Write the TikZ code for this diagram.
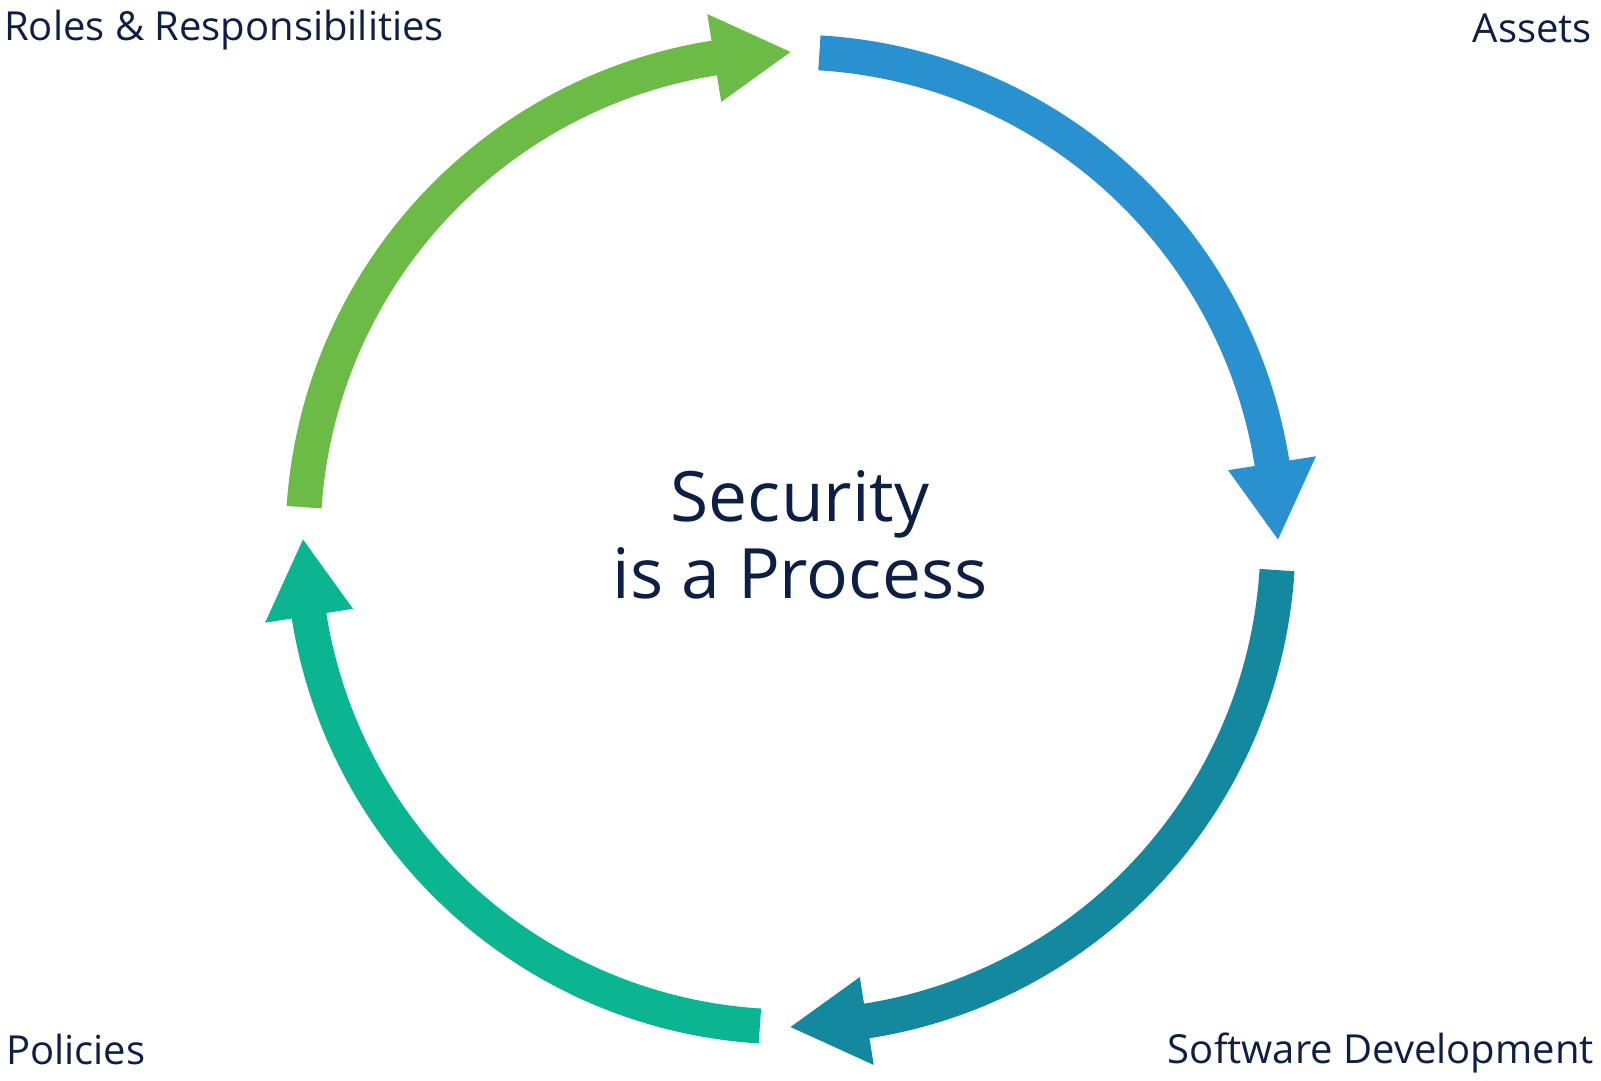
\documentclass[tikz,border=0pt]{standalone}
\usepackage{fontspec}
\setmainfont{Open Sans}

\definecolor{assetblue}{HTML}{2A91D0}
\definecolor{devteal}{HTML}{13889F}
\definecolor{policygreen}{HTML}{0BB592}
\definecolor{rolegreen}{HTML}{6CBB46}
\definecolor{labelnavy}{HTML}{0E1F45}

\begin{document}
\begin{tikzpicture}[x=1pt, y=1pt, every node/.style={text=labelnavy, inner sep=0pt, font=\fontsize{40}{48}\selectfont}]
                \useasboundingbox (0,0) rectangle (1601,1081);
                \coordinate (C) at (790.5,541.5);
                % four arcs, clockwise, each with its own head
                \foreach \s/\e/\c in {86.6/0/assetblue, -3.6/-90/devteal, -93.6/-180/policygreen, 176.2/90/rolegreen} {
                    \draw[\c, line width=35pt]
                        (C) ++(\s:487.5pt) arc[start angle=\s, end angle=\e+8.8, radius=487.5pt];
                    \fill[\c, shift={(C)}] (\e:487.5pt) -- (\e+9:532pt) -- (\e+9:443pt) -- cycle;
                }
                \node[anchor=base west] (roles) at (4,1040) {Roles \& Responsibilities};
                \node[anchor=base east] (assets) at (1592,1038) {Assets};
                \node[anchor=base east] (software) at (1594,17) {Software Development};
                \node[anchor=base west] (policies) at (6,16) {Policies};
                \node[anchor=base, font=\fontsize{69.5}{78}\selectfont] (title) at (800,559) {Security};
                \node[anchor=base, font=\fontsize{69.5}{78}\selectfont] (subtitle) at (800,482) {is a Process};
            \end{tikzpicture}
\end{document}
